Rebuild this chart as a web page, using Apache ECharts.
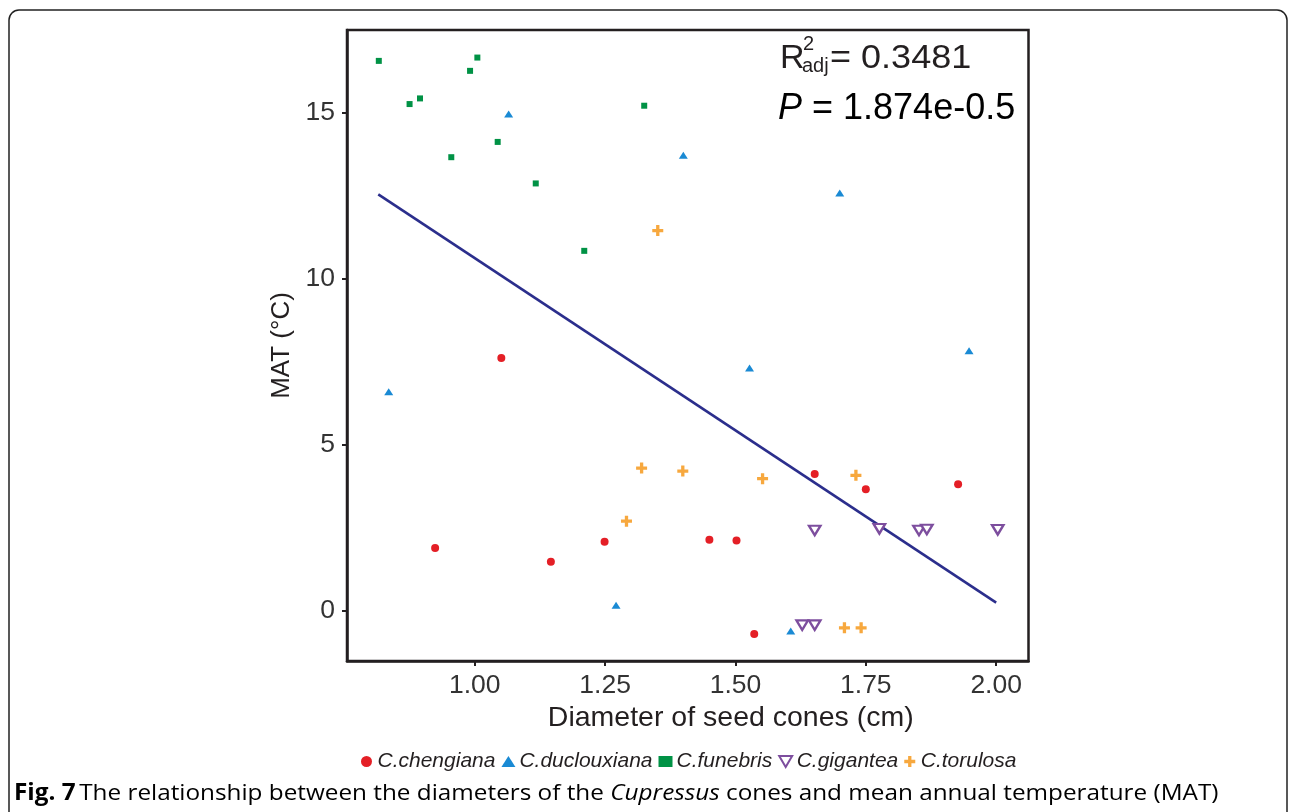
<!DOCTYPE html>
<html>
<head>
<meta charset="utf-8">
<script src="https://cdn.jsdelivr.net/npm/echarts@6/dist/echarts.min.js"></script>
<style>
html,body{margin:0;padding:0;background:#fff;}
#chart{width:1295px;height:812px;}
</style>
</head>
<body>
<div id="chart"></div>
<script>
// ---- data ----
const speciesNames = ['C.chengiana', 'C.duclouxiana', 'C.funebris', 'C.gigantea', 'C.torulosa'];

const chengiana = [
  [1.051, 7.62], [1.652, 4.13], [1.750, 3.67], [1.927, 3.82], [0.924, 1.90],
  [1.146, 1.49], [1.249, 2.09], [1.450, 2.15], [1.502, 2.13], [1.536, -0.69]
];
const duclouxiana = [
  [1.065, 14.97], [1.400, 13.73], [1.700, 12.59], [0.835, 6.61],
  [1.527, 7.32], [1.948, 7.84], [1.271, 0.18], [1.606, -0.60]
];
const funebris = [
  [0.816, 16.57], [1.005, 16.67], [0.991, 16.27], [0.875, 15.27], [0.895, 15.44],
  [1.325, 15.22], [1.044, 14.13], [0.955, 13.67], [1.117, 12.88], [1.210, 10.85]
];
const gigantea = [
  [1.652, 2.43], [1.776, 2.48], [1.852, 2.43], [1.867, 2.46], [2.003, 2.45],
  [1.628, -0.42], [1.652, -0.42]
];
const torulosa = [
  [1.351, 11.46], [1.320, 4.31], [1.399, 4.22], [1.552, 3.99], [1.731, 4.09],
  [1.291, 2.71], [1.709, -0.50], [1.741, -0.50]
];
const fitLine = [[0.815, 12.55], [2.0, 0.26]];

const xTicks = [1.00, 1.25, 1.50, 1.75, 2.00];
const yTicks = [0, 5, 10, 15];

// ---- styling ----
const C_RED = '#e41f26', C_BLUE = '#1a8ad4', C_GREEN = '#009245', C_PURPLE = '#7d4e9e', C_ORANGE = '#f7a83e';
const AX = '#231f20';
const FONT = '"Liberation Sans", Arial, sans-serif';
const CAPFONT = '"Open Sans", sans-serif';
const crossPath = 'path://M3.5,0H6.5V3.5H10V6.5H6.5V10H3.5V6.5H0V3.5H3.5Z';
const invTriPath = 'path://M0,0L10,0L5,8.5Z';

const chart = echarts.init(document.getElementById('chart'), null, {renderer: 'canvas'});

const option = {
  animation: false,
  backgroundColor: '#fff',
  grid: {
    left: 347, top: 30, right: 266.5, bottom: 151,
    show: true, borderColor: AX, borderWidth: 2.5, backgroundColor: 'transparent'
  },
  xAxis: {
    type: 'value', min: 0.755, max: 2.062,
    name: 'Diameter of seed cones (cm)', nameLocation: 'middle', nameGap: 41,
    nameTextStyle: {fontFamily: FONT, fontSize: 28.5, color: AX, padding: [0, 0, 0, 86]},
    axisLine: {show: true, onZero: false, lineStyle: {color: AX, width: 2.5}},
    axisTick: {show: true, inside: false, length: 5, lineStyle: {color: AX, width: 2}, customValues: xTicks},
    axisLabel: {fontFamily: FONT, fontSize: 26.5, color: '#333', margin: 11, customValues: xTicks,
      formatter: v => v.toFixed(2)},
    splitLine: {show: false}
  },
  yAxis: {
    type: 'value', min: -1.5, max: 17.5,
    name: 'MAT (°C)', nameLocation: 'middle', nameGap: 42,
    nameTextStyle: {fontFamily: FONT, fontSize: 26, color: AX},
    axisLine: {show: true, onZero: false, lineStyle: {color: AX, width: 2.5}},
    axisTick: {show: true, inside: false, length: 5, lineStyle: {color: AX, width: 2}, customValues: yTicks},
    axisLabel: {fontFamily: FONT, fontSize: 26.5, color: '#333', margin: 12, customValues: yTicks},
    splitLine: {show: false}
  },
  legend: {
    left: 356, top: 746,
    itemWidth: 14, itemHeight: 11, itemGap: 6,
    textStyle: {fontFamily: FONT, fontSize: 21, fontStyle: 'italic', color: AX, padding: [0, 0, 0, -1]},
    data: speciesNames
  },
  series: [
    {
      type: 'line', data: fitLine, symbol: 'none', z: 1,
      lineStyle: {color: '#2b2e8c', width: 2.6}, silent: true
    },
    {name: speciesNames[0], type: 'scatter', data: chengiana, symbol: 'circle', symbolSize: 8, z: 3,
      itemStyle: {color: C_RED, opacity: 1}},
    {name: speciesNames[1], type: 'scatter', data: duclouxiana, symbol: 'triangle', symbolSize: [9, 7], z: 3,
      itemStyle: {color: C_BLUE, opacity: 1}},
    {name: speciesNames[2], type: 'scatter', data: funebris, symbol: 'rect', symbolSize: 6, z: 3,
      itemStyle: {color: C_GREEN, opacity: 1}},
    {name: speciesNames[3], type: 'scatter', data: gigantea, symbol: invTriPath, symbolSize: [11.5, 9.5], z: 3,
      itemStyle: {color: '#fff', borderColor: C_PURPLE, borderWidth: 2.3, opacity: 1}},
    {name: speciesNames[4], type: 'scatter', data: torulosa, symbol: crossPath, symbolSize: 11, z: 3,
      itemStyle: {color: C_ORANGE, opacity: 1}}
  ],
  graphic: [
    {type: 'rect', x: 9, y: 10, z: -10, silent: true,
      shape: {x: 0, y: 0, width: 1278, height: 830, r: 10},
      style: {fill: 'none', stroke: '#222', lineWidth: 1.5}},
    {type: 'text', x: 780, y: 59, z: 10,
      style: {text: 'R', font: '34px ' + FONT, fill: AX, verticalAlign: 'middle'}},
    {type: 'text', x: 803, y: 44, z: 10,
      style: {text: '2', font: '20px ' + FONT, fill: AX, verticalAlign: 'middle'}},
    {type: 'text', x: 802, y: 66, z: 10,
      style: {text: 'adj', font: '20px ' + FONT, fill: AX, verticalAlign: 'middle'}},
    {type: 'text', x: 830, y: 59, z: 10, scaleX: 1.06,
      style: {text: '= 0.3481', font: '34px ' + FONT, fill: AX, verticalAlign: 'middle'}},
    {type: 'text', x: 778, y: 109, z: 10,
      style: {
        text: '{i|P}{n| = 1.874e-0.5}', verticalAlign: 'middle',
        rich: {
          i: {fontFamily: FONT, fontSize: 36, fontStyle: 'italic', color: AX},
          n: {fontFamily: FONT, fontSize: 36, color: AX}
        }
      }},
    {type: 'text', x: 14, y: 794, z: 10, scaleX: 1.08,
      style: {
        text: '{b|Fig. 7} {n|The relationship between the diameters of the }{i|Cupressus}{n| cones and mean annual temperature (MAT)}',
        verticalAlign: 'middle',
        rich: {
          b: {fontFamily: CAPFONT, fontSize: 22.5, fontWeight: 'bold', color: '#231f20'},
          n: {fontFamily: CAPFONT, fontSize: 22.5, color: '#231f20'},
          i: {fontFamily: CAPFONT, fontSize: 22.5, fontStyle: 'italic', color: '#231f20'}
        }
      }}
  ]
};
chart.setOption(option);
</script>
</body>
</html>
